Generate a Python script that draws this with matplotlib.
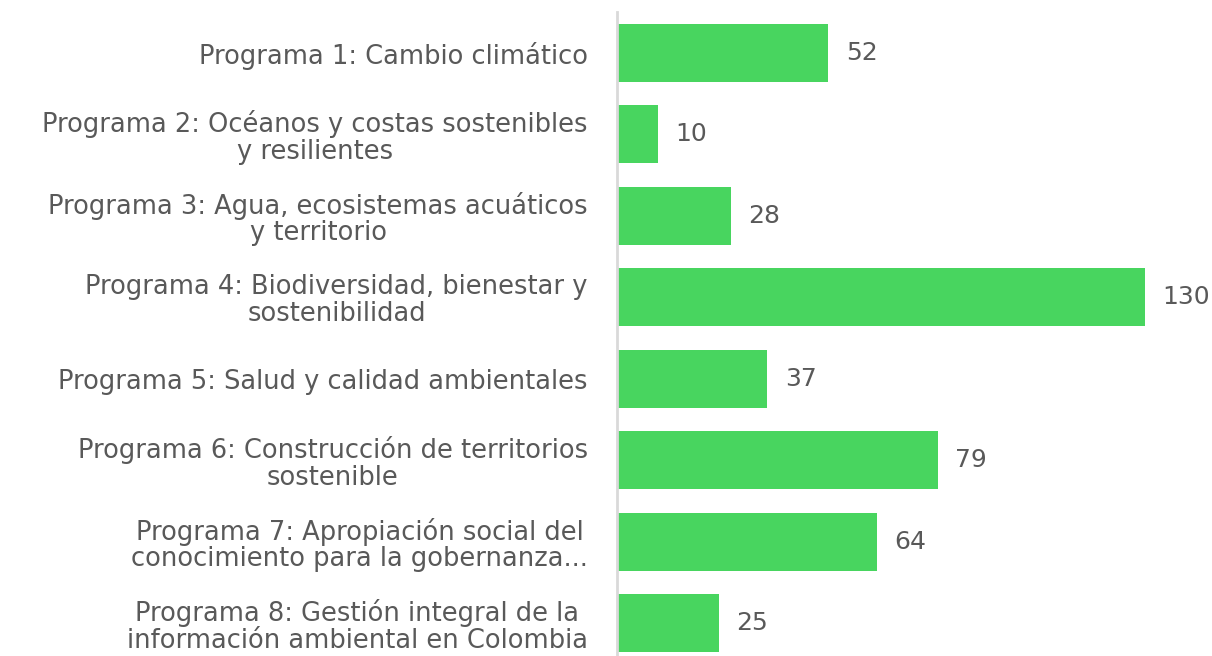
import matplotlib.pyplot as plt

programas = [
    "Programa 1: Cambio climático",
    "Programa 2: Océanos y costas sostenibles\ny resilientes",
    "Programa 3: Agua, ecosistemas acuáticos\ny territorio",
    "Programa 4: Biodiversidad, bienestar y\nsostenibilidad",
    "Programa 5: Salud y calidad ambientales",
    "Programa 6: Construcción de territorios\nsostenible",
    "Programa 7: Apropiación social del\nconocimiento para la gobernanza...",
    "Programa 8: Gestión integral de la\ninformación ambiental en Colombia",
]
valores = [52, 10, 28, 130, 37, 79, 64, 25]

GREEN = "#48D55F"
TEXT = "#595959"
plt.rcParams["font.family"] = ["DejaVu Sans"]

fig = plt.figure(figsize=(12.12, 6.56), dpi=100)
ax = fig.add_axes([617 / 1212, -8 / 656, 1 - 617 / 1212, 652 / 656])

y = list(range(len(valores)))
ax.barh(y, valores, height=0.71, color=GREEN)
ax.set_ylim(len(valores) - 0.5, -0.5)
ax.set_xlim(0, 146.5)

for yi, v in zip(y, valores):
    ax.text(v + 4.3, yi, str(v), va="center", ha="left", fontsize=18, color=TEXT)

ax.set_yticks(y)
ax.set_yticklabels(programas, fontsize=18.5, color=TEXT, multialignment="center",
                   linespacing=1.02)
ax.tick_params(axis="y", length=0, pad=21)
ax.set_xticks([])
for s in ["top", "right", "bottom"]:
    ax.spines[s].set_visible(False)
ax.spines["left"].set_color("#D9D9D9")
ax.spines["left"].set_linewidth(2)

fig.savefig("out.png", dpi=100)
